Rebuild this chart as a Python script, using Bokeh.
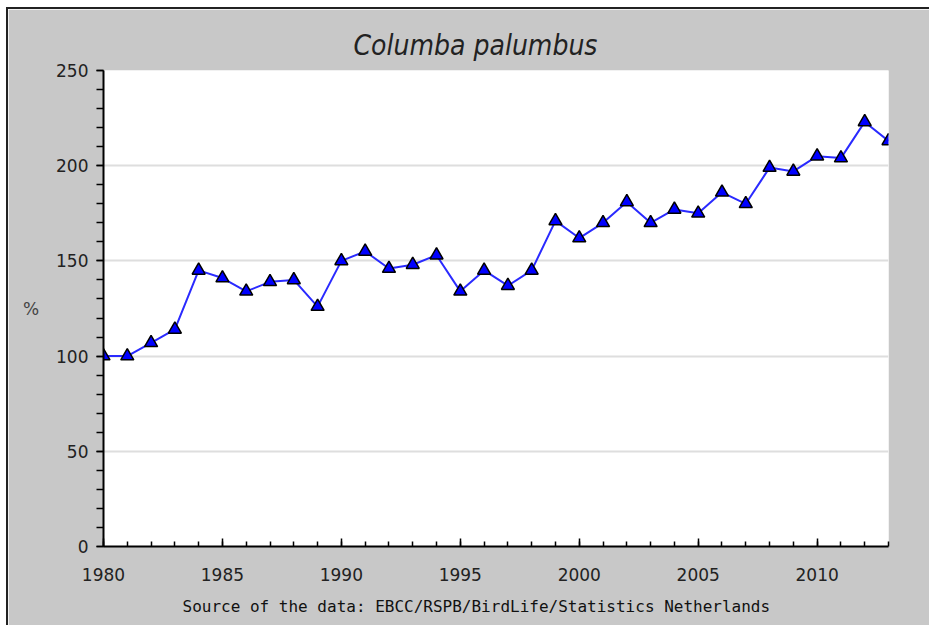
from bokeh.plotting import figure
from bokeh.models import SingleIntervalTicker, Range1d, Title, ColumnDataSource
from bokeh.embed import file_html
from bokeh.resources import INLINE

years = list(range(1980, 2014))
index = [100, 100, 107, 114, 145, 141, 134, 139, 140, 126,
         150, 155, 146, 148, 153, 134, 145, 137, 145, 171,
         162, 170, 181, 170, 177, 175, 186, 180, 199, 197,
         205, 204, 223, 213]
title_text = "Columba palumbus"
y_label = "%"
source_text = "Source of the data: EBCC/RSPB/BirdLife/Statistics Netherlands"

src = ColumnDataSource(dict(year=years, index=index))

BG = "#c8c8c8"
p = figure(width=923, height=618, output_backend="svg", toolbar_location=None,
           x_range=Range1d(1980, 2013), y_range=Range1d(0, 250),
           background_fill_color="white", border_fill_color=BG,
           min_border_left=95, min_border_top=61, min_border_right=43, min_border_bottom=81)
p.outline_line_color = None
p.styles = {"margin-left": "6px", "margin-top": "7px",
            "border-left": "2px solid #222", "border-top": "2px solid #222"}

p.title.text = title_text
p.title.align = "left"
p.title.offset = 250
p.title.text_font = "DejaVu Sans Condensed, DejaVu Sans"
p.title.text_font_style = "italic"
p.title.text_font_size = "28px"
p.title.text_color = "#222222"
p.title.standoff = 18

p.add_layout(Title(text=source_text, align="left", offset=79,
                   text_font="DejaVu Sans Mono", text_font_size="16px",
                   text_font_style="normal", text_color="#111111",
                   standoff=22), "below")

p.line("year", "index", source=src, line_color="#2a2aff", line_width=2)
p.scatter("year", "index", source=src, marker="triangle", size=13,
          fill_color="#0000ff", line_color="black", line_width=1.5)

xa = p.xaxis[0]
xa.ticker = SingleIntervalTicker(interval=5, num_minor_ticks=5)
xa.axis_line_width = 2
xa.axis_line_color = "black"
xa.major_tick_in = 8
xa.major_tick_out = 0
xa.minor_tick_in = 5
xa.minor_tick_out = 0
xa.major_tick_line_width = 1.5
xa.minor_tick_line_width = 1.5
xa.major_label_text_font = "DejaVu Sans"
xa.major_label_text_font_size = "17px"
xa.major_label_text_color = "#222222"
xa.major_label_standoff = 21

ya = p.yaxis[0]
ya.ticker = SingleIntervalTicker(interval=50, num_minor_ticks=5)
ya.axis_line_width = 2
ya.axis_line_color = "black"
ya.major_tick_in = 0
ya.major_tick_out = 7
ya.minor_tick_in = 0
ya.minor_tick_out = 7
ya.major_tick_line_width = 1.5
ya.minor_tick_line_width = 1.5
ya.major_label_text_font = "DejaVu Sans"
ya.major_label_text_font_size = "17px"
ya.major_label_text_color = "#222222"
ya.major_label_standoff = 8
ya.axis_label = y_label
ya.axis_label_orientation = "horizontal"
ya.axis_label_text_font = "DejaVu Sans"
ya.axis_label_text_font_style = "normal"
ya.axis_label_text_font_size = "17px"
ya.axis_label_standoff = 14

p.xgrid.grid_line_color = None
p.ygrid.grid_line_color = "#dedede"
p.ygrid.grid_line_width = 2

open("out.html", "w").write(file_html(p, INLINE))
